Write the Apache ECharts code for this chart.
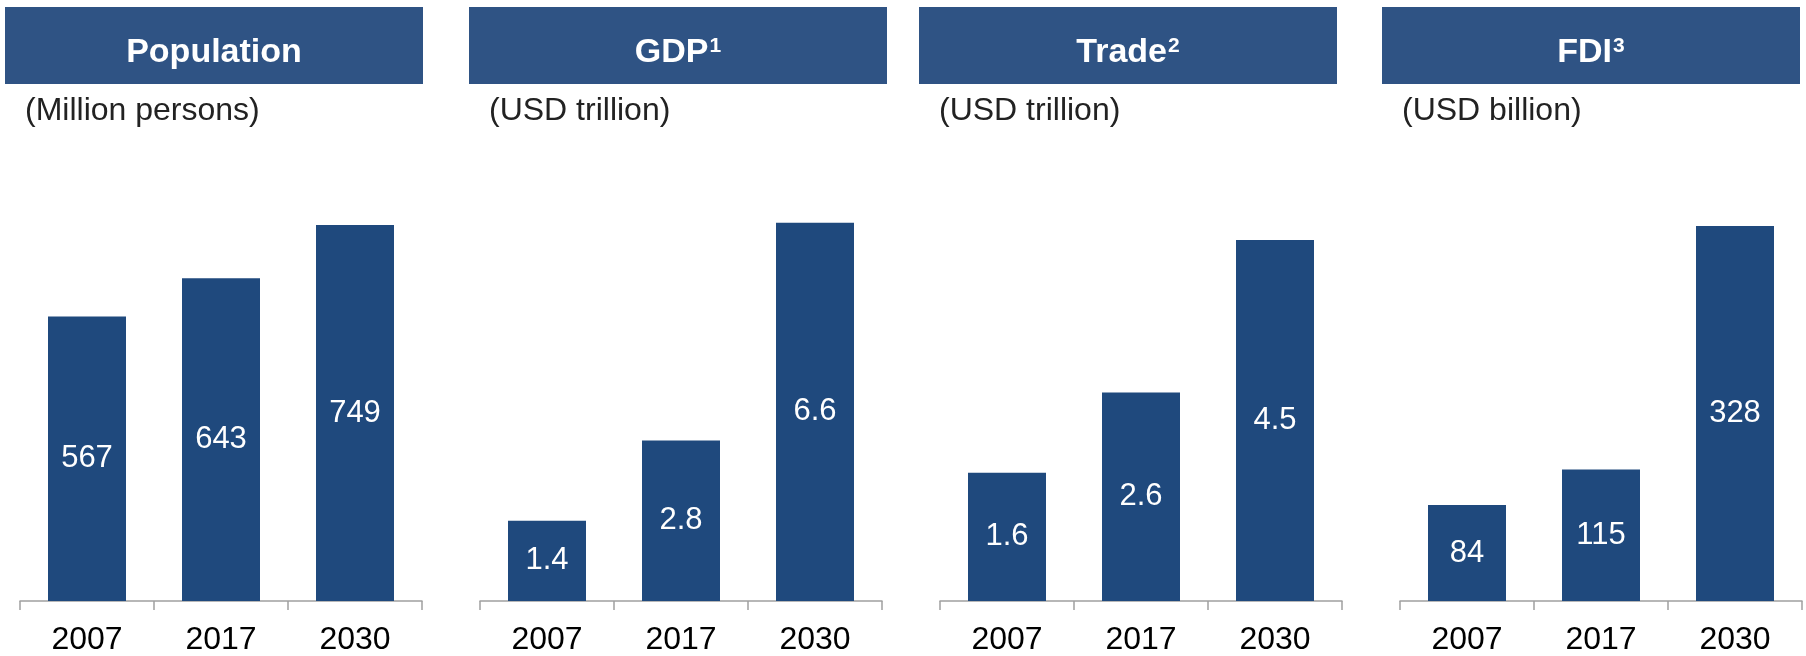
<!DOCTYPE html>
<html>
<head>
<meta charset="utf-8">
<script src="https://cdn.jsdelivr.net/npm/echarts@6/dist/echarts.min.js"></script>
<style>
  html, body { margin: 0; padding: 0; background: #fff; }
  #chart { width: 1806px; height: 656px; }
</style>
</head>
<body>
<div id="chart"></div>
<script>
// 数据
var years = ['2007', '2017', '2030']
var panelTitles = ['Population', 'GDP', 'Trade', 'FDI']
var panelNotes = ['', '1', '2', '3']
var panelUnits = ['(Million persons)', '(USD trillion)', '(USD trillion)', '(USD billion)']
var population = [567, 643, 749]
var gdp = [1.4, 2.8, 6.6]
var trade = [1.6, 2.6, 4.5]
var fdi = [84, 115, 328]
var axisMax = [795, 6.96, 4.975, 349]

var seriesData = [population, gdp, trade, fdi]

// 版式
var headerLeft = [5, 469, 919, 1382]
var gridLeft = [20, 480, 940, 1400]
var headerColor = '#2F5384'
var barColor = '#1F497D'
var fontFamily = '"Liberation Sans", Arial, sans-serif'

var myChart = echarts.init(document.getElementById('chart'))

var grids = [], xAxes = [], yAxes = [], series = [], titles = [], graphics = []

seriesData.forEach(function (data, i) {
  grids.push({ left: gridLeft[i], width: 402, top: 202, height: 400 })
  xAxes.push({
    type: 'category',
    gridIndex: i,
    data: years,
    axisLine: { lineStyle: { color: '#A0A0A0', width: 1.5 } },
    axisTick: { show: true, length: 9, lineStyle: { color: '#A0A0A0', width: 1.5 } },
    axisLabel: { color: '#000', fontSize: 32, fontFamily: fontFamily, margin: 23 }
  })
  yAxes.push({
    type: 'value',
    gridIndex: i,
    min: 0,
    max: axisMax[i],
    show: false,
    splitLine: { show: false }
  })
  series.push({
    type: 'bar',
    xAxisIndex: i,
    yAxisIndex: i,
    data: data,
    barWidth: 78,
    itemStyle: { color: barColor },
    label: {
      show: true,
      position: 'inside',
      color: '#fff',
      fontSize: 31,
      fontFamily: fontFamily
    }
  })
  // 小标题（单位）
  titles.push({
    text: panelUnits[i],
    left: headerLeft[i] + 20,
    top: 95,
    padding: 0,
    textStyle: { color: '#222', fontSize: 32, fontWeight: 'normal', fontFamily: fontFamily }
  })
  // 顶部色块
  var label = panelTitles[i] + (panelNotes[i] ? '{sup|' + panelNotes[i] + '}' : '')
  graphics.push({
    type: 'group',
    left: headerLeft[i],
    top: 7,
    children: [{
      type: 'rect',
      shape: { x: 0, y: 0, width: 418, height: 77 },
      style: { fill: headerColor }
    }, {
      type: 'text',
      x: 209,
      y: 46,
      style: {
        text: label,
        fill: '#fff',
        fontSize: 34,
        fontWeight: 'bold',
        fontFamily: fontFamily,
        lineHeight: 34,
        textAlign: 'center',
        textVerticalAlign: 'middle',
        rich: {
          sup: {
            fill: '#fff',
            fontSize: 21,
            fontWeight: 'bold',
            fontFamily: fontFamily,
            lineHeight: 34,
            verticalAlign: 'top',
            padding: [0, 0, 14, 1]
          }
        }
      }
    }]
  })
})

var option = {
  backgroundColor: '#fff',
  animation: false,
  title: titles,
  grid: grids,
  xAxis: xAxes,
  yAxis: yAxes,
  series: series,
  graphic: graphics
}

myChart.setOption(option)
window.addEventListener('resize', function () {
  myChart.resize()
})
</script>
</body>
</html>
